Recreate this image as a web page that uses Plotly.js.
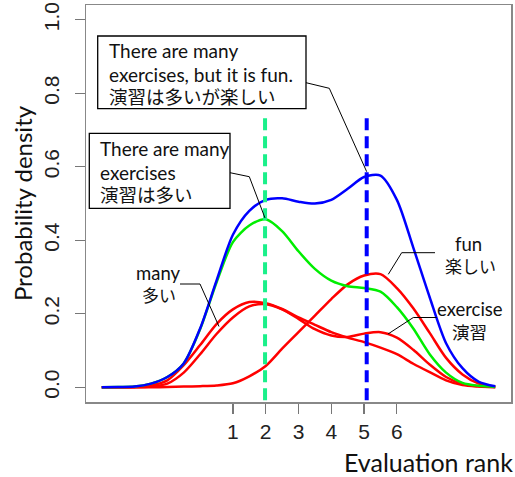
<!DOCTYPE html>
<html>
<head>
<meta charset="utf-8">
<script src="https://cdn.plot.ly/plotly-3.0.1.min.js"></script>
<style>html,body{margin:0;padding:0;background:#fff;}#chart{width:515px;height:477px;}</style>
</head>
<body>
<div id="chart"></div>
<script>
// ---- data ----
var rank = [-3,-2.5,-2,-1.5,-1,-0.5,0,0.5,1,1.5,2,2.5,3,3.5,4,4.5,5,5.5,6,6.5,7,7.5,8,8.5,9];
var densityAll = [0,0.001,0.002,0.01,0.028,0.065,0.16,0.29,0.415,0.48,0.51,0.514,0.505,0.5,0.51,0.54,0.572,0.576,0.51,0.38,0.245,0.12,0.052,0.015,0.003];
var densityExercisesMany = [0,0.001,0.002,0.01,0.028,0.065,0.158,0.285,0.395,0.44,0.457,0.425,0.37,0.322,0.29,0.275,0.27,0.26,0.218,0.16,0.09,0.04,0.012,0.004,0.001];
var densityFun = [0,0,0,0,0.001,0.002,0.003,0.005,0.011,0.03,0.058,0.105,0.15,0.195,0.24,0.28,0.304,0.308,0.27,0.215,0.148,0.08,0.035,0.01,0.002];
var densityMany = [0,0,0.001,0.005,0.019,0.06,0.115,0.172,0.212,0.232,0.229,0.213,0.19,0.17,0.15,0.135,0.123,0.108,0.09,0.064,0.041,0.019,0.006,0.002,0];
var densityExercise = [0,0,0,0.002,0.01,0.04,0.09,0.145,0.19,0.22,0.226,0.212,0.186,0.158,0.141,0.137,0.146,0.15,0.135,0.102,0.062,0.028,0.009,0.003,0.001];
var meanRanks = [1.98, 5.08];          // means: "exercises many", "all"
var xTicks = [1,2,3,4,5,6];
var xTickLabels = ['1','2','3','4','5','6'];
var yTicks = [0,0.2,0.4,0.6,0.8,1.0];
var yTickLabels = ['0.0','0.2','0.4','0.6','0.8','1.0'];

// ---- layout helpers (pixel -> data) ----
var XR = [-3.48, 9.48], YR = [-0.04, 1.04];
var L = 86, T = 5, W = 425, H = 397;
function px2x(p){ return XR[0] + (p - L) * (XR[1]-XR[0]) / W; }
function py2y(p){ return YR[1] - (p - T) * (YR[1]-YR[0]) / H; }
function pathOf(pts){
  return pts.map(function(p,i){ return (i? 'L':'M') + px2x(p[0]) + ',' + py2y(p[1]); }).join(' ');
}

var TXT = 'Lato, "Noto Sans CJK JP", sans-serif';
function curve(y, color){
  return {x: rank, y: y, type:'scatter', mode:'lines',
          line:{color:color, width:2.5, shape:'spline', smoothing:0.8}, hoverinfo:'skip'};
}
function vline(m, color){
  return {x:[m,m], y:[-0.035, 0.745], type:'scatter', mode:'lines',
          line:{color:color, width:4, dash:'12px,6px'}, hoverinfo:'skip'};
}

var traces = [
  curve(densityExercise, '#ff0000'),
  curve(densityMany, '#ff0000'),
  curve(densityFun, '#ff0000'),
  curve(densityExercisesMany, '#00ee00'),
  curve(densityAll, '#0000ff'),
  vline(meanRanks[0], '#1af08a'),
  vline(meanRanks[1], '#0000ff')
];

var lineStyle = {color:'#000', width:1};
function box(x0,y0,x1,y1){
  return {type:'rect', xref:'x', yref:'y', x0:px2x(x0), x1:px2x(x1), y0:py2y(y0), y1:py2y(y1),
          line:{color:'#000', width:1.3}, fillcolor:'#fff', layer:'above'};
}
var shapes = [
  box(97.7,36,306,108.7),
  box(89.3,133.3,230,208.3),
  {type:'path', xref:'x', yref:'y', path:pathOf([[306,82.7],[329.3,88.3],[366.7,171.7]]), line:lineStyle},
  {type:'path', xref:'x', yref:'y', path:pathOf([[230,172.7],[249.3,176.7],[265,218]]), line:lineStyle},
  {type:'path', xref:'x', yref:'y', path:pathOf([[180,284],[200,284],[219,326.5]]), line:lineStyle},
  {type:'path', xref:'x', yref:'y', path:pathOf([[435,252.7],[401.7,252.7],[388.3,274.3]]), line:lineStyle},
  {type:'path', xref:'x', yref:'y', path:pathOf([[436.7,317.5],[413.3,317.5],[388,334]]), line:lineStyle}
];

function label(px, py, text, size, anchor){
  return {x:px2x(px), y:py2y(py), xref:'x', yref:'y', xanchor:anchor||'center', yanchor:'middle',
          text:text, showarrow:false, align:'left', font:{family:TXT, size:size, color:'#111'}};
}
var annotations = [
  label(107, 50, 'There are many', 19, 'left'),
  label(107, 74, 'exercises, but it is fun.', 19, 'left'),
  label(107, 97, '演習は多いが楽しい', 18.5, 'left'),
  label(98.3, 148, 'There are many', 19, 'left'),
  label(98.3, 172, 'exercises', 19, 'left'),
  label(98.3, 195, '演習は多い', 18.5, 'left'),
  label(158.8, 273, 'many', 18.5),
  label(159, 295.5, '多い', 17),
  label(468.3, 244, 'fun', 18.5),
  label(470, 266.5, '楽しい', 17),
  label(469.5, 308.5, 'exercise', 18.5),
  label(469.5, 332, '演習', 17.5),
  {x:(428.5-L)/W, y:(T+H-461.7)/H, xref:'paper', yref:'paper', xanchor:'center', yanchor:'middle',
   text:'Evaluation rank', showarrow:false, font:{family:TXT, size:25, color:'#111'}}
];

var tickFont = {family:'Liberation Sans, Arial, sans-serif', size:21, color:'#222'};
var layout = {
  width:515, height:477,
  margin:{l:L, r:515-L-W, t:T, b:477-T-H, pad:0},
  paper_bgcolor:'#fff', plot_bgcolor:'#fff',
  showlegend:false,
  xaxis:{range:XR, tickmode:'array', tickvals:xTicks, ticktext:xTickLabels,
         ticks:'outside', ticklen:10, tickwidth:1.2, tickcolor:'#777',
         showline:true, mirror:true, linecolor:'#888', linewidth:1.5,
         showgrid:false, zeroline:false, tickfont:tickFont, fixedrange:true},
  yaxis:{range:YR, tickmode:'array', tickvals:yTicks, ticktext:yTickLabels, tickangle:-90,
         ticks:'outside', ticklen:10, tickwidth:1.2, tickcolor:'#777', ticklabelstandoff:7,
         showline:true, mirror:true, linecolor:'#888', linewidth:1.5,
         showgrid:false, zeroline:false, tickfont:tickFont, fixedrange:true,
         title:{text:'Probability density', font:{family:TXT, size:24, color:'#111'}, standoff:0}},
  shapes:shapes,
  annotations:annotations
};

Plotly.newPlot('chart', traces, layout, {staticPlot:true, displayModeBar:false});
</script>
</body>
</html>
